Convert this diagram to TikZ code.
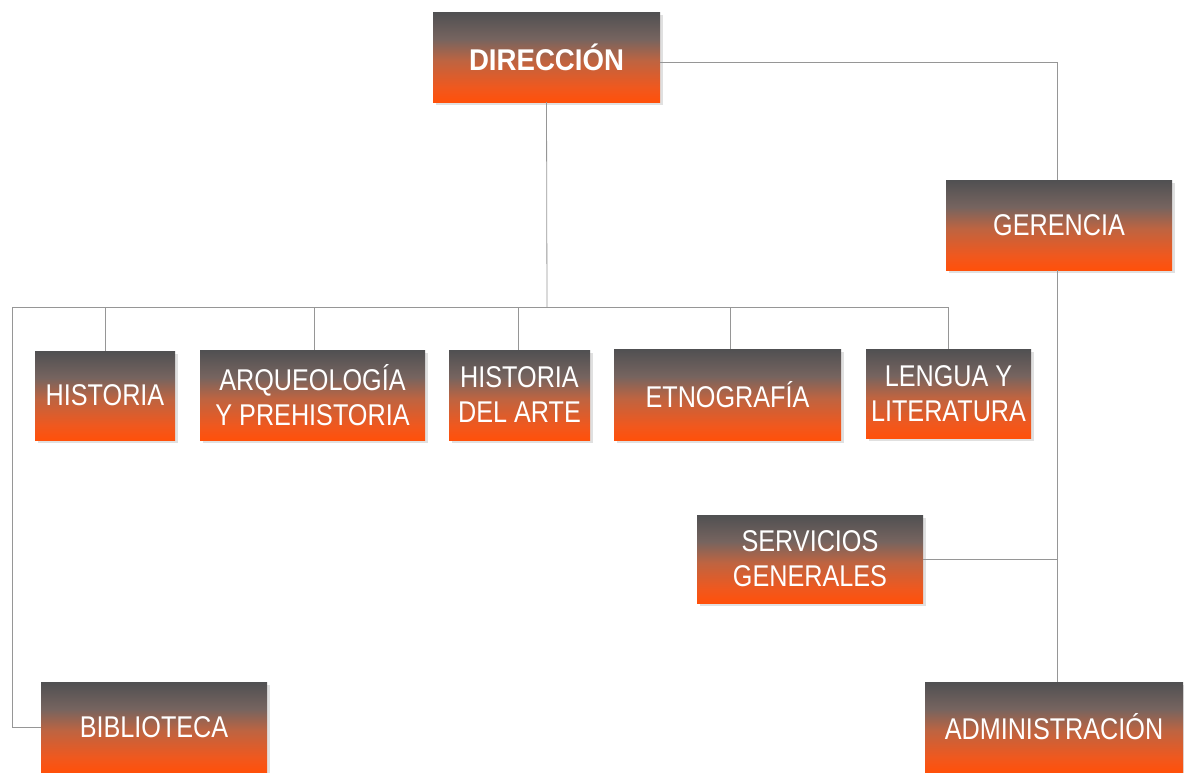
\documentclass[tikz,border=0pt]{standalone}
\usepackage{fontspec}
\setmainfont{Liberation Sans}[FakeStretch=0.84, BoldFeatures={FakeStretch=0.92}]
\usetikzlibrary{shadows}
\definecolor{orbot}{RGB}{255,80,10}
\definecolor{orlow}{RGB}{240,88,30}
\definecolor{ormid}{RGB}{190,100,65}
\definecolor{grmid}{RGB}{118,100,95}
\definecolor{grtop}{RGB}{80,80,82}
\definecolor{lineg}{RGB}{150,150,150}
\pgfdeclareverticalshading{boxshade}{100bp}{color(0bp)=(orbot); color(25bp)=(orbot); color(33bp)=(orlow); color(48bp)=(ormid); color(60bp)=(grmid); color(75bp)=(grtop); color(100bp)=(grtop)}
\tikzset{
  unit/.style={rectangle, shading=boxshade, text=white, align=center,
    inner sep=0pt, font=\fontsize{30}{35}\selectfont,
    drop shadow={shadow xshift=3pt, shadow yshift=-3pt, fill=black, opacity=0.12}},
  conn/.style={draw=lineg, line width=0.8pt}
}
\begin{document}
\begin{tikzpicture}[x=1pt,y=-1pt]
\useasboundingbox (0,0) rectangle (1184,772);
\node[unit, minimum width=227pt, minimum height=90pt, font=\fontsize{30}{35}\selectfont\bfseries] (DIR) at (546.5,57) {DIRECCIÓN};
\node[unit, minimum width=226pt, minimum height=90pt] (GER) at (1059,225) {GERENCIA};
\node[unit, minimum width=140pt, minimum height=89pt] (HIS) at (105,395.5) {HISTORIA};
\node[unit, minimum width=225pt, minimum height=90pt] (ARQ) at (312.5,395) {ARQUEOLOGÍA\\Y PREHISTORIA};
\node[unit, minimum width=141pt, minimum height=90pt] (HDA) at (519.5,395) {HISTORIA\\DEL ARTE};
\node[unit, minimum width=227pt, minimum height=91pt] (ETN) at (727.5,394.5) {ETNOGRAFÍA};
\node[unit, minimum width=165pt, minimum height=89pt] (LEN) at (948.5,393.5) {LENGUA Y\\LITERATURA};
\node[unit, minimum width=226pt, minimum height=88pt] (SER) at (810,559) {SERVICIOS\\GENERALES};
\node[unit, minimum width=226pt, minimum height=90pt] (BIB) at (154,727) {BIBLIOTECA};
\node[unit, minimum width=258pt, minimum height=90pt] (ADM) at (1054,727) {ADMINISTRACIÓN};

\coordinate (bus) at (547,307);
\coordinate (bl) at (12,307);
\coordinate (gx) at (1057,62);

\draw[conn] ([yshift=-5pt]DIR.east) -- (gx) -- (gx |- GER.north);
\draw[conn] (gx |- GER.south) -- (gx |- ADM.north);
\draw[conn] (SER.east) -- (SER.east -| gx);
\draw[conn] (DIR.south) -- (bus);
\draw[conn] (LEN.north |- bus) -- (bl) |- (BIB.west);
\draw[conn] (HIS.north |- bus) -- (HIS.north);
\draw[conn] ([xshift=1.5pt]ARQ.north |- bus) -- ([xshift=1.5pt]ARQ.north);
\draw[conn] ([xshift=-1.5pt]HDA.north |- bus) -- ([xshift=-1.5pt]HDA.north);
\draw[conn] ([xshift=2.5pt]ETN.north |- bus) -- ([xshift=2.5pt]ETN.north);
\draw[conn] (LEN.north |- bus) -- (LEN.north);
\end{tikzpicture}
\end{document}
